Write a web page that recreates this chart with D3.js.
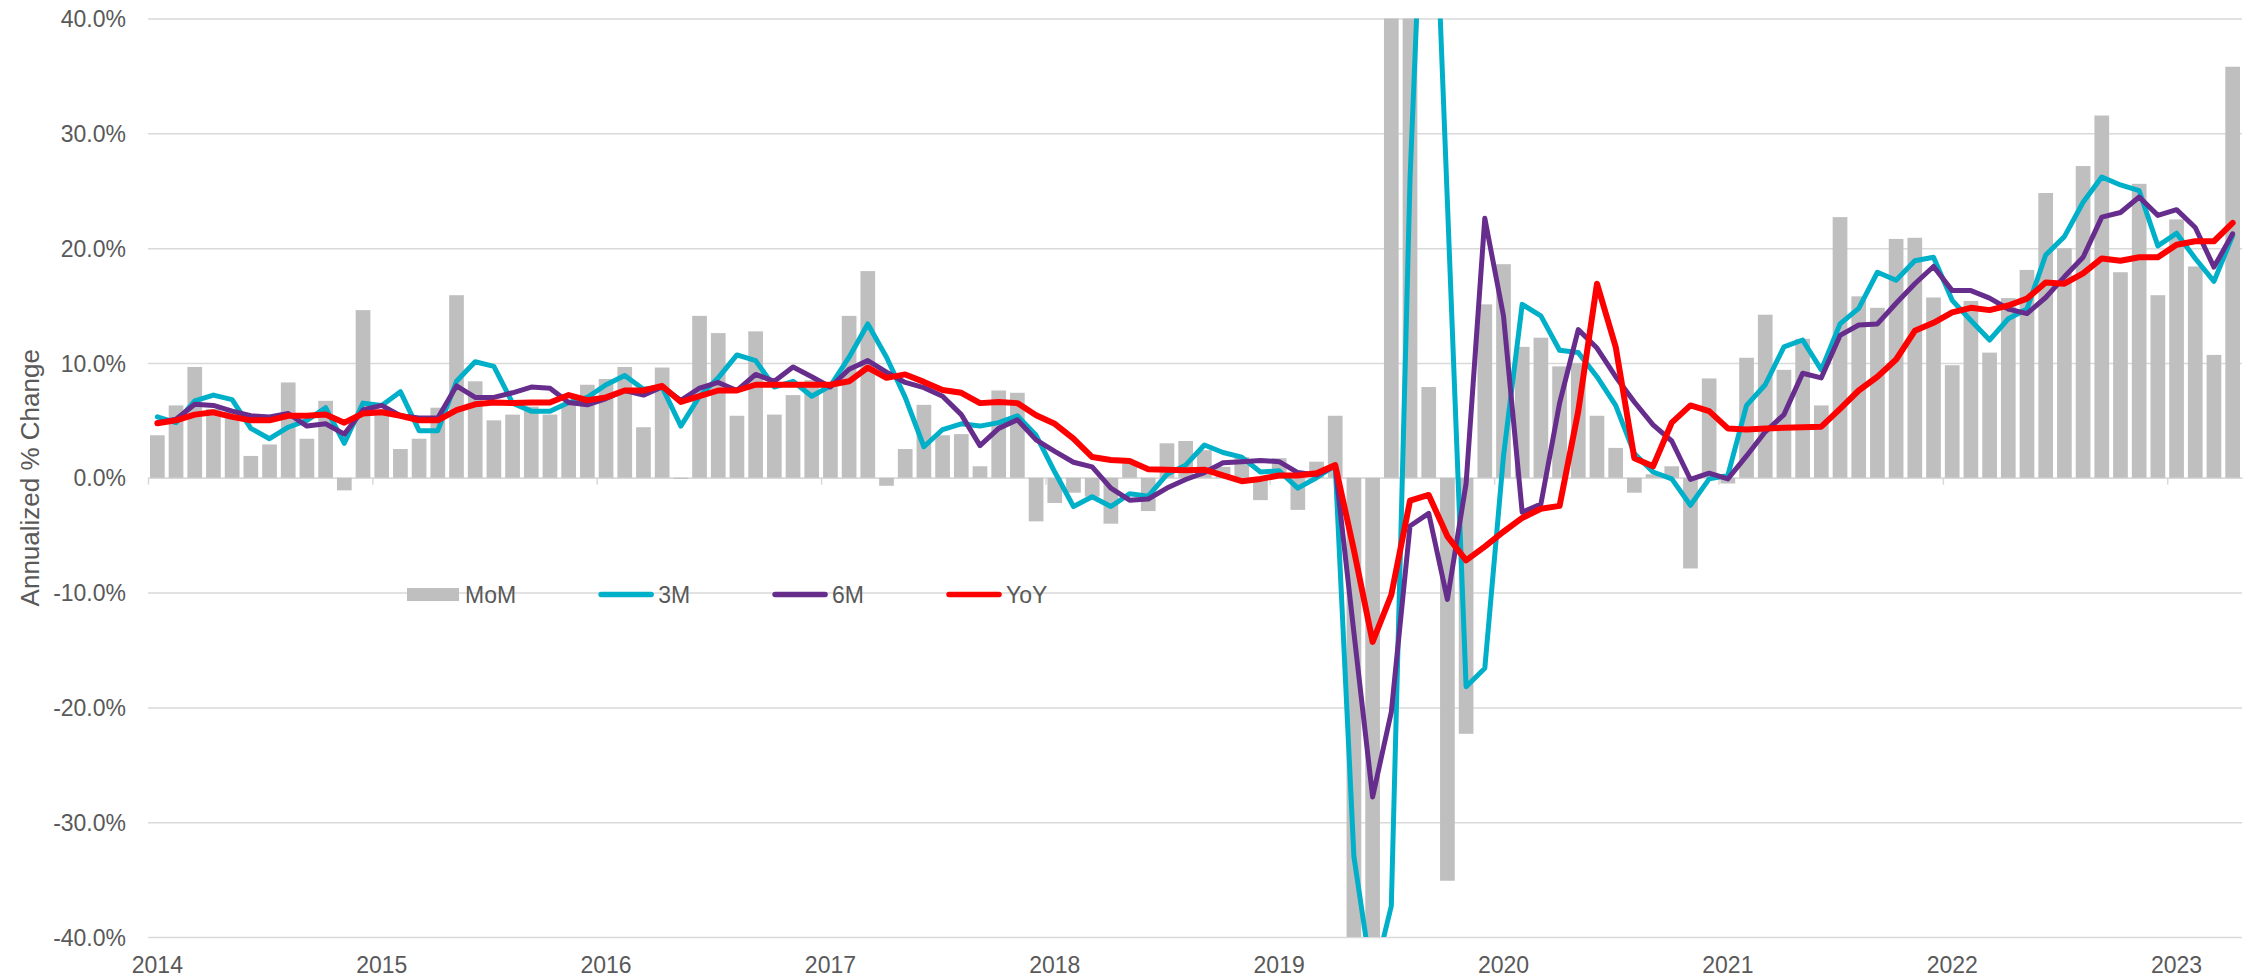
<!DOCTYPE html>
<html>
<head>
<meta charset="utf-8">
<script src="https://cdn.jsdelivr.net/npm/d3@7"></script>
<style>
  body { margin: 0; background: #fff; }
  svg text { font-family: "Liberation Sans", Arial, sans-serif; fill: #595959; }
</style>
</head>
<body>
<div id="chart"></div>
<script>
// monthly data, Jan 2014 .. Apr 2023
const firstMonth = new Date(2014, 0, 1);
const endMonth = new Date(2023, 4, 1);
const yearLabels = ["2014", "2015", "2016", "2017", "2018", "2019", "2020", "2021", "2022", "2023"];
const yTicks = [-40, -30, -20, -10, 0, 10, 20, 30, 40];
const seriesNames = ["MoM", "3M", "6M", "YoY"];

const mom = [
  3.7, 6.3, 9.65, 6.0, 5.8, 1.9, 2.9, 8.3, 3.4, 6.7, -1.1, 14.6,
  6.0, 2.5, 3.4, 6.1, 15.9, 8.4, 5.0, 5.5, 6.2, 5.5, 6.5, 8.1,
  8.6, 9.65, 4.4, 9.6, -0.1, 14.1, 12.6, 5.4, 12.75, 5.5, 7.2, 8.5,
  8.1, 14.1, 18.0, -0.7, 2.5, 6.35, 3.7, 3.8, 1.0, 7.6, 7.4, -3.8,
  -2.2, -1.3, -1.65, -4.0, 1.25, -2.9, 3.0, 3.2, 2.4, 0.95, 1.8, -1.95,
  1.7, -2.8, 1.4, 5.4, -58, -72, 95, 120, 7.9, -35.1, -22.3, 15.1,
  18.6, 11.4, 12.2, 9.7, 10.0, 5.4, 2.6, -1.3, 0.3, 1.0, -7.9, 8.65,
  -0.5, 10.45, 14.2, 9.4, 12.1, 6.3, 22.7, 15.8, 14.8, 20.8, 20.9, 15.7,
  9.8, 15.4, 10.9, 15.65, 18.1, 24.8, 20.0, 27.15, 31.55, 17.9, 25.6, 15.9,
  22.5, 18.4, 10.7, 35.8
];

const m3 = [
  5.3, 4.8, 6.7, 7.2, 6.8, 4.3, 3.4, 4.4, 5.0, 6.1, 3.0, 6.5,
  6.3, 7.5, 4.1, 4.1, 8.4, 10.1, 9.7, 6.5, 5.8, 5.8, 6.55, 7.0,
  8.1, 8.9, 7.7, 7.9, 4.5, 7.1, 8.7, 10.7, 10.2, 7.9, 8.4, 7.1,
  8.0, 10.5, 13.4, 10.5, 7.0, 2.7, 4.2, 4.7, 4.5, 4.8, 5.4, 3.7,
  0.5, -2.5, -1.65, -2.5, -1.4, -1.6, 0.3, 1.1, 2.85, 2.2, 1.8, 0.5,
  0.6, -0.9, 0.0, 1.1, -33, -44, -37.3, 26, 66, 24, -18.2, -16.6,
  1.9, 15.1, 14.1, 11.1, 10.9, 8.8, 6.3, 2.1, 0.5, -0.1, -2.4, -0.1,
  0.2, 6.3, 8.1, 11.4, 12.0, 9.4, 13.4, 14.75, 17.9, 17.2, 18.9, 19.2,
  15.45, 13.7, 12.0, 13.85, 14.7, 19.4, 21.0, 24.0, 26.2, 25.5, 25.0, 20.2,
  21.3, 19.1, 17.1, 21.1
];

const m6 = [
  4.8, 5.1, 6.4, 6.3, 5.8, 5.4, 5.3, 5.6, 4.5, 4.7, 3.8, 5.9,
  6.3, 5.4, 5.2, 5.2, 8.0, 7.0, 7.0, 7.4, 7.9, 7.8, 6.55, 6.35,
  6.9, 7.6, 7.2, 7.9, 6.75, 7.8, 8.3, 7.6, 9.0, 8.4, 9.65, 8.8,
  7.9, 9.45, 10.2, 9.2, 8.3, 7.85, 7.1, 5.5, 2.8, 4.3, 5.05, 3.3,
  2.3, 1.35, 0.95, -0.9, -1.95, -1.85, -0.9, -0.15, 0.45, 1.3, 1.4, 1.5,
  1.4, 0.45, 0.25, 1.0, -13.5, -27.8, -20.4, -4.2, -3.1, -10.6, -0.5, 22.6,
  14.1, -3.0, -2.3, 6.5, 12.9, 11.3, 8.8, 6.6, 4.6, 3.2, -0.15, 0.4,
  -0.1, 1.9, 4.0, 5.5, 9.1, 8.7, 12.4, 13.3, 13.4, 15.2, 16.9, 18.4,
  16.3, 16.3, 15.65, 14.7, 14.3, 15.7, 17.5, 19.2, 22.7, 23.1, 24.45, 22.85,
  23.35, 21.8, 18.35, 21.25
];

const yoy = [
  4.75, 5.0, 5.5, 5.7, 5.3, 5.0, 5.0, 5.4, 5.4, 5.5, 4.8, 5.6,
  5.7, 5.4, 5.0, 5.0, 5.9, 6.4, 6.55, 6.5, 6.55, 6.55, 7.2, 6.75,
  7.0, 7.6, 7.6, 8.0, 6.6, 7.1, 7.6, 7.6, 8.1, 8.1, 8.1, 8.1,
  8.1, 8.4, 9.6, 8.7, 9.0, 8.35, 7.65, 7.4, 6.5, 6.6, 6.5, 5.45,
  4.7, 3.4, 1.8, 1.55, 1.45, 0.75, 0.7, 0.65, 0.7, 0.2, -0.3, -0.1,
  0.2, 0.2, 0.4, 1.1, -6.3, -14.3, -10.2, -2.0, -1.5, -5.1, -7.2, -6.0,
  -4.7, -3.5, -2.7, -2.45, 5.8, 16.9, 11.4, 1.7, 1.0, 4.8, 6.3, 5.8,
  4.3, 4.2, 4.3, 4.35, 4.4, 4.45, 6.0, 7.6, 8.8, 10.3, 12.8, 13.5,
  14.4, 14.8, 14.6, 15.0, 15.6, 17.0, 16.9, 17.8, 19.1, 18.9, 19.2, 19.2,
  20.3, 20.6, 20.6, 22.2
];

const width = 2252;
const height = 978;
const margin = { top: 18.5, right: 10, bottom: 41, left: 148 };
const fontSize = 23;
const colors = { MoM: "#bfbfbf", "3M": "#00afc8", "6M": "#662d8c", YoY: "#ff0000" };
const lineWidths = { "3M": 5, "6M": 5, YoY: 6 };

const fmtKey = d3.timeFormat("%Y-%m");
const months = d3.timeMonth.range(firstMonth, endMonth).map(fmtKey);

const svg = d3.select("#chart")
  .append("svg")
  .attr("width", width)
  .attr("height", height);

const x = d3.scaleBand()
  .domain(months)
  .range([margin.left, width - margin.right])
  .paddingInner(0.214)
  .paddingOuter(0.107);

// linear index scale, used for the tick marks on the month boundaries
const xIdx = d3.scaleLinear()
  .domain([0, months.length])
  .range([margin.left, width - margin.right]);

const y = d3.scaleLinear()
  .domain([-40, 40])
  .range([height - margin.bottom, margin.top]);

const plotW = width - margin.right - margin.left;

svg.append("defs").append("clipPath")
  .attr("id", "plot-clip")
  .append("rect")
  .attr("x", margin.left)
  .attr("y", y(40))
  .attr("width", plotW)
  .attr("height", y(-40) - y(40));

// y grid + labels
const yAxis = svg.append("g")
  .attr("transform", `translate(${margin.left},0)`)
  .call(d3.axisLeft(y)
    .tickValues(yTicks)
    .tickSize(-plotW)
    .tickPadding(22)
    .tickFormat(d => d.toFixed(1) + "%"));
yAxis.select(".domain").remove();
yAxis.selectAll(".tick line").attr("stroke", "#d9d9d9").attr("stroke-width", 1.5);
yAxis.selectAll(".tick text")
  .attr("font-size", fontSize)
  .attr("dy", null)
  .attr("y", 8.2);

// zero line with year tick marks
const xAxis = svg.append("g")
  .attr("transform", `translate(0,${y(0)})`)
  .call(d3.axisBottom(xIdx)
    .tickValues(d3.range(0, months.length, 12))
    .tickSize(7)
    .tickSizeOuter(0)
    .tickFormat(""));
xAxis.select(".domain").attr("stroke", "#d9d9d9").attr("stroke-width", 1.5);
xAxis.selectAll(".tick line").attr("stroke", "#d9d9d9").attr("stroke-width", 1.5);

// year labels at the bottom, centred on January
const januaries = months.filter(m => m.endsWith("-01"));
const xLabels = svg.append("g")
  .attr("transform", `translate(0,${y(-40)})`)
  .call(d3.axisBottom(x)
    .tickValues(januaries)
    .tickSize(0)
    .tickPadding(0)
    .tickFormat((d, i) => yearLabels[i]));
xLabels.select(".domain").remove();
xLabels.selectAll(".tick text")
  .attr("font-size", fontSize)
  .attr("dy", null)
  .attr("y", 36);

// axis title
svg.append("text")
  .attr("transform", `translate(39,${(y(40) + y(-40)) / 2}) rotate(-90)`)
  .attr("text-anchor", "middle")
  .attr("font-size", 26)
  .text("Annualized % Change");

const plot = svg.append("g").attr("clip-path", "url(#plot-clip)");

plot.selectAll("rect.bar")
  .data(mom)
  .enter().append("rect")
  .attr("class", "bar")
  .attr("x", (d, i) => x(months[i]))
  .attr("width", x.bandwidth())
  .attr("y", d => y(Math.max(0, d)))
  .attr("height", d => Math.abs(y(d) - y(0)))
  .attr("fill", colors.MoM);

const line = d3.line()
  .x((d, i) => x(months[i]) + x.bandwidth() / 2)
  .y(d => y(d));

const lines = [["3M", m3], ["6M", m6], ["YoY", yoy]];
lines.forEach(([name, values]) => {
  plot.append("path")
    .datum(values)
    .attr("d", line)
    .attr("fill", "none")
    .attr("stroke", colors[name])
    .attr("stroke-width", lineWidths[name])
    .attr("stroke-linejoin", "round")
    .attr("stroke-linecap", "round");
});

// legend sits on the -10% gridline
const legend = svg.append("g");
const legendY = y(-10) + 2;
let cursor = 407;
seriesNames.forEach(name => {
  if (name === "MoM") {
    legend.append("rect")
      .attr("x", cursor).attr("y", legendY - 6.5)
      .attr("width", 52).attr("height", 13)
      .attr("fill", colors.MoM);
  } else {
    legend.append("line")
      .attr("x1", cursor + 3).attr("x2", cursor + 53)
      .attr("y1", legendY).attr("y2", legendY)
      .attr("stroke", colors[name])
      .attr("stroke-width", 5.5)
      .attr("stroke-linecap", "round");
  }
  const t = legend.append("text")
    .attr("x", cursor + (name === "MoM" ? 58 : 60))
    .attr("y", legendY + 8.2)
    .attr("font-size", fontSize)
    .text(name);
  cursor += (name === "MoM" ? 58 : 60) + t.node().getComputedTextLength() + 82;
});
</script>
</body>
</html>
